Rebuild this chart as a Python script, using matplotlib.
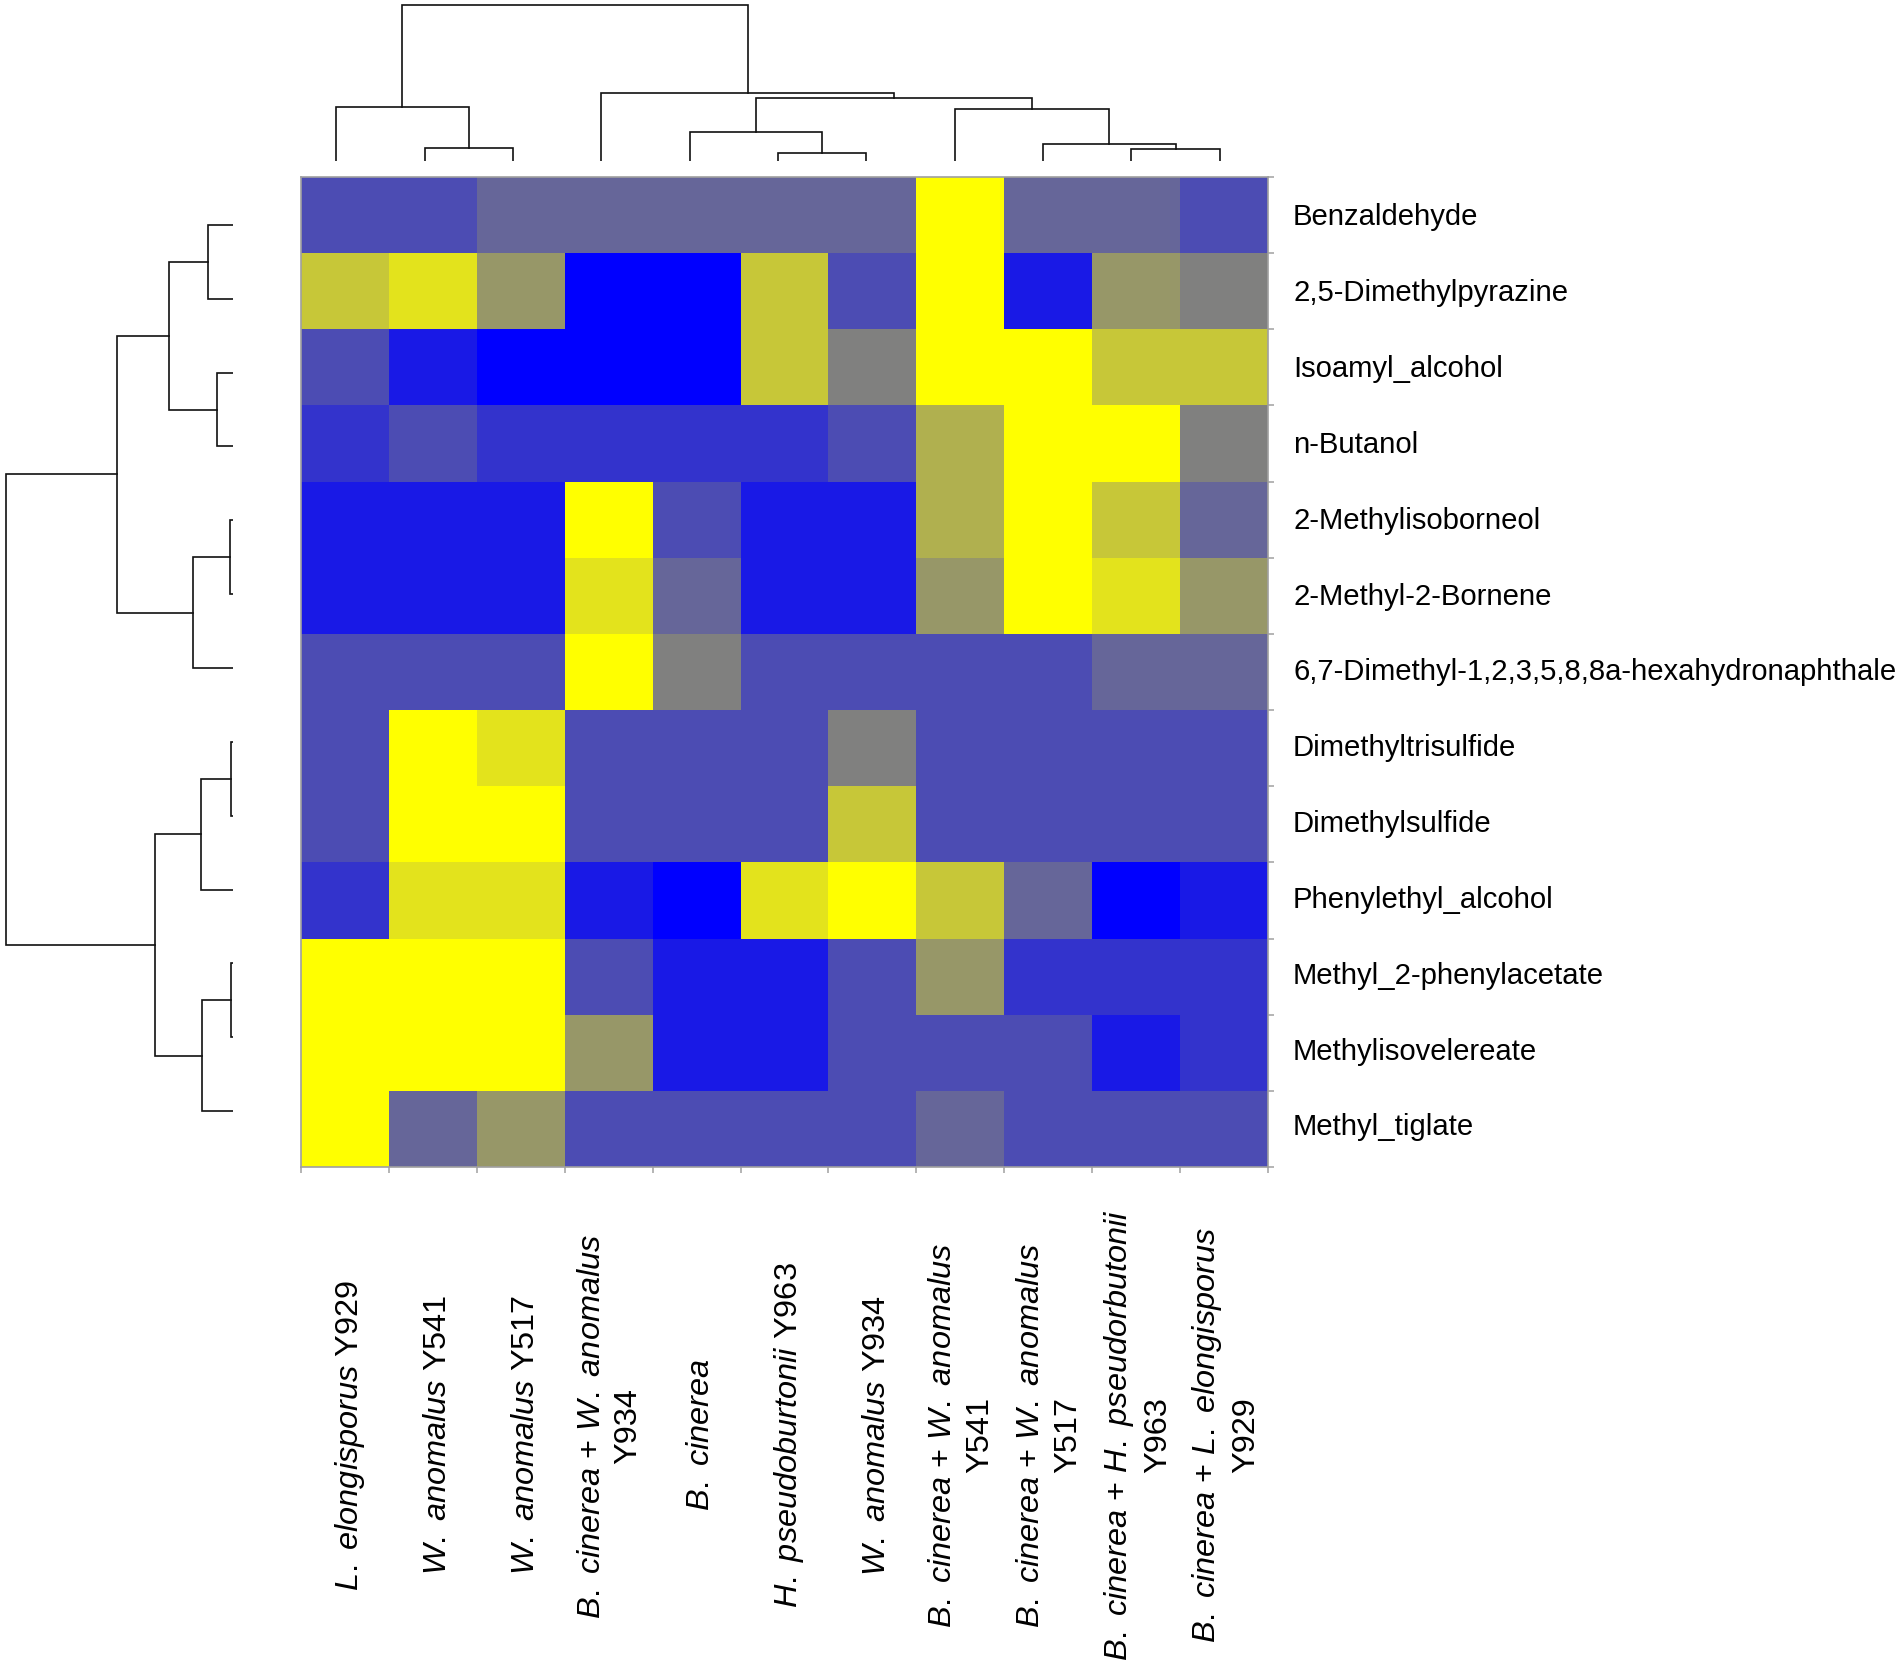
"""Clustered heatmap of volatile compounds with row and column dendrograms."""
import matplotlib
matplotlib.use('Agg')
import matplotlib.pyplot as plt
from matplotlib.colors import LinearSegmentedColormap

plt.rcParams['font.family'] = ['Liberation Sans', 'DejaVu Sans']
plt.rcParams['mathtext.fontset'] = 'custom'
plt.rcParams['mathtext.rm'] = 'Liberation Sans'
plt.rcParams['mathtext.it'] = 'Liberation Sans:italic'

W, H = 1902, 1663

compounds = [
    'Benzaldehyde', '2,5-Dimethylpyrazine', 'Isoamyl_alcohol', 'n-Butanol',
    '2-Methylisoborneol', '2-Methyl-2-Bornene',
    '6,7-Dimethyl-1,2,3,5,8,8a-hexahydronaphthale',
    'Dimethyltrisulfide', 'Dimethylsulfide', 'Phenylethyl_alcohol',
    'Methyl_2-phenylacetate', 'Methylisovelereate', 'Methyl_tiglate',
]

samples = [
    r'$\mathit{L.\ elongisporus}$ Y929',
    r'$\mathit{W.\ anomalus}$ Y541',
    r'$\mathit{W.\ anomalus}$ Y517',
    r'$\mathit{B.\ cinerea}$ + $\mathit{W.\ anomalus}$' + '\nY934',
    r'$\mathit{B.\ cinerea}$',
    r'$\mathit{H.\ pseudoburtonii}$ Y963',
    r'$\mathit{W.\ anomalus}$ Y934',
    r'$\mathit{B.\ cinerea}$ + $\mathit{W.\ anomalus}$' + '\nY541',
    r'$\mathit{B.\ cinerea}$ + $\mathit{W.\ anomalus}$' + '\nY517',
    r'$\mathit{B.\ cinerea}$ + $\mathit{H.\ pseudorbutonii}$' + '\nY963',
    r'$\mathit{B.\ cinerea}$ + $\mathit{L.\ elongisporus}$' + '\nY929',
]

# scaled abundance, 0 = blue, 0.5 = grey, 1 = yellow
heat = [
    [.30, .30, .40, .40, .40, .40, .40, 1.0, .40, .40, .30],
    [.78, .89, .59, 0.0, 0.0, .78, .30, 1.0, .10, .59, .50],
    [.30, .10, 0.0, 0.0, 0.0, .78, .50, 1.0, 1.0, .78, .78],
    [.20, .30, .20, .20, .20, .20, .30, .69, 1.0, 1.0, .50],
    [.10, .10, .10, 1.0, .30, .10, .10, .69, 1.0, .78, .40],
    [.10, .10, .10, .89, .40, .10, .10, .59, 1.0, .89, .59],
    [.30, .30, .30, 1.0, .50, .30, .30, .30, .30, .40, .40],
    [.30, 1.0, .89, .30, .30, .30, .50, .30, .30, .30, .30],
    [.30, 1.0, 1.0, .30, .30, .30, .78, .30, .30, .30, .30],
    [.20, .89, .89, .10, 0.0, .89, 1.0, .78, .40, 0.0, .10],
    [1.0, 1.0, 1.0, .30, .10, .10, .30, .59, .20, .20, .20],
    [1.0, 1.0, 1.0, .59, .10, .10, .30, .30, .30, .10, .20],
    [1.0, .40, .59, .30, .30, .30, .30, .40, .30, .30, .30],
]

# merges: child a, child b, height; ids above the leaf count are earlier merges
col_merges = [
    (1, 2, 13), (0, 11, 54), (5, 6, 8), (4, 13, 29), (9, 10, 12),
    (8, 15, 17), (7, 16, 52), (14, 17, 63), (3, 18, 68), (12, 19, 156),
]
row_merges = [
    (0, 1, 25), (2, 3, 16), (13, 14, 64), (4, 5, 3), (16, 6, 40),
    (15, 17, 116), (7, 8, 2), (19, 9, 32), (10, 11, 2), (21, 12, 31),
    (20, 22, 78), (18, 23, 227),
]


def px_axes(left, top, right, bottom):
    return fig.add_axes([left / W, 1 - bottom / H, (right - left) / W, (bottom - top) / H])


def links(merges, n_leaves):
    # one (pos a, pos a, pos b, pos b) / (h a, h, h, h b) bracket per merge
    pos = {i: float(i) for i in range(n_leaves)}
    hgt = {i: 0.0 for i in range(n_leaves)}
    out = []
    for k, (a, b, h) in enumerate(merges):
        out.append(([pos[a], pos[a], pos[b], pos[b]], [hgt[a], h, h, hgt[b]]))
        pos[n_leaves + k] = (pos[a] + pos[b]) / 2
        hgt[n_leaves + k] = h
    return out


fig = plt.figure(figsize=(W / 100, H / 100), dpi=100, facecolor='white')

# ── Heatmap ───────────────────────────────────────────────────────────────
cmap = LinearSegmentedColormap.from_list('bgy', ['#0000ff', '#808080', '#ffff00'])
ax = px_axes(301, 177, 1268, 1167)
ax.pcolormesh(heat, cmap=cmap, vmin=0, vmax=1)
ax.set_xlim(0, len(samples))
ax.set_ylim(len(compounds), 0)
for s in ax.spines.values():
    s.set_color('#a0a0a0')
    s.set_linewidth(1.2)

ax.set_xticks(range(len(samples) + 1), labels=[])
ax.yaxis.tick_right()
ax.set_yticks(range(len(compounds) + 1), labels=[])
ax.tick_params(axis='both', which='major', length=4.5, width=1.1, color='#a0a0a0')

for i, label in enumerate(compounds):
    # label rows run a touch tighter than the cells in the original
    ax.text(len(samples) + 0.285, 0.529 + 0.996 * i, label, ha='left', va='center',
            fontsize=21.1, color='#000000', clip_on=False)

for i, label in enumerate(samples):
    # two-line labels sit almost on the column centre, single lines a bit right of it
    nudge = 0.015 if '\n' in label else 0.055
    y = 16.4 if i == 3 else 16.52   # the Y934 co-culture label sits a little higher
    ax.text(i + 0.5 + nudge, y, label, rotation=90, ha='center', va='center',
            fontsize=23.4, color='#000000', clip_on=False, multialignment='center',
            linespacing=1.3)

# ── Dendrograms ───────────────────────────────────────────────────────────
top = px_axes(292, 0, 1264, 161)
for xs, ys in links(col_merges, len(samples)):
    top.plot(xs, ys, color='#111111', lw=1.2, solid_joinstyle='miter')
top.set_xlim(-0.5, len(samples) - 0.5)
top.set_ylim(0, 161)
top.axis('off')

side = px_axes(0, 188, 233, 1148)
for xs, ys in links(row_merges, len(compounds)):
    side.plot(ys, xs, color='#111111', lw=1.2, solid_joinstyle='miter')
side.set_xlim(233, 0)
side.set_ylim(len(compounds) - 0.5, -0.5)
side.axis('off')

fig.savefig('out.png', dpi=100, facecolor='white')
plt.close(fig)
